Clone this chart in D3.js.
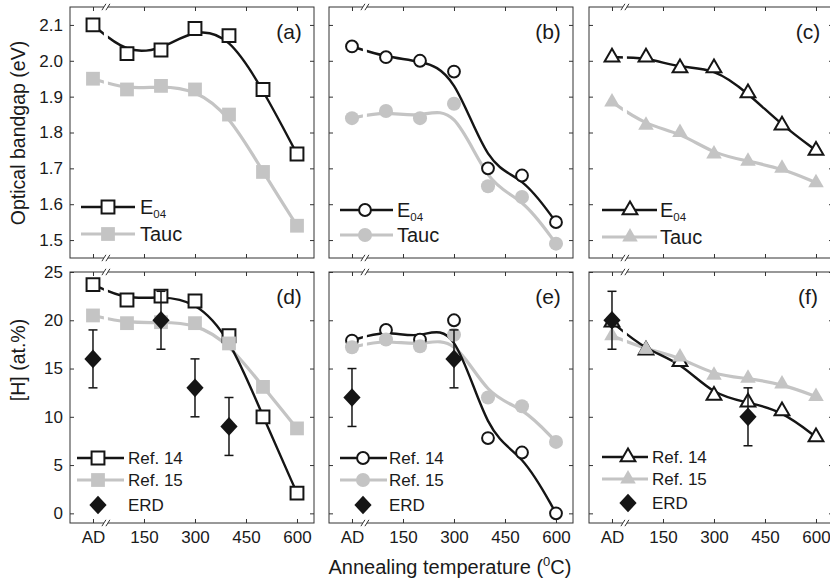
<!DOCTYPE html>
<html><head><meta charset="utf-8">
<script src="https://cdn.jsdelivr.net/npm/d3@7"></script>
<style>
body{margin:0;background:#fff}
svg{display:block}
text{font-family:"Liberation Sans",Arial,Helvetica,sans-serif;fill:#1a1a1a}
</style>
</head><body>
<svg id="c" width="830" height="583"></svg>
<script>
// ---------- data ----------
const temps = [0, 100, 200, 300, 400, 500, 600];
const xTickValues = [0, 150, 300, 450, 600];
const xTickLabels = ["AD", "150", "300", "450", "600"];
const gapTickValues = [1.5, 1.6, 1.7, 1.8, 1.9, 2.0, 2.1];
const gapTickLabels = ["1.5", "1.6", "1.7", "1.8", "1.9", "2.0", "2.1"];
const hTickValues = [0, 5, 10, 15, 20, 25];
const hTickLabels = ["0", "5", "10", "15", "20", "25"];

const gapE04_a  = [2.10, 2.02, 2.03, 2.09, 2.07, 1.92, 1.74];
const gapTauc_a = [1.95, 1.92, 1.93, 1.92, 1.85, 1.69, 1.54];
const gapE04_b  = [2.04, 2.01, 2.00, 1.97, 1.70, 1.68, 1.55];
const gapTauc_b = [1.84, 1.86, 1.84, 1.88, 1.65, 1.62, 1.49];
const gapE04_c  = [2.01, 2.01, 1.98, 1.98, 1.91, 1.82, 1.75];
const gapTauc_c = [1.885, 1.82, 1.80, 1.74, 1.72, 1.70, 1.66];

const hRef14_d = [23.7, 22.1, 22.5, 22.0, 18.4, 10.0, 2.1];
const hRef15_d = [20.5, 19.7, 19.8, 19.7, 17.6, 13.1, 8.8];
const erdT_d = [0, 200, 300, 400];
const erd_d = [16, 20, 13, 9];
const erdErr_d = [3, 3, 3, 3];

const hRef14_e = [17.9, 19.0, 18.0, 20.0, 7.8, 6.3, 0.0];
const hRef15_e = [17.2, 18.0, 17.3, 18.5, 12.0, 11.1, 7.4];
const erdT_e = [0, 300];
const erd_e = [12, 16];
const erdErr_e = [3, 3];

const hRef14_f = [19.8, 16.9, 15.7, 12.2, 11.5, 10.6, 7.9];
const hRef15_f = [18.4, 17.0, 16.2, 14.3, 14.0, 13.4, 12.1];
const erdT_f = [0, 400];
const erd_f = [20, 10];
const erdErr_f = [3, 3];

const topLegend = ["E04", "Tauc"];
const bottomLegend = ["Ref. 14", "Ref. 15", "ERD"];

// ---------- layout ----------
const svg = d3.select("#c");
const PW = 244, PH = 251;
const colX = [70, 329, 589], rowY = [7, 272];
const GRAY = "#c4c4c4", BLACK = "#151515", AXC = "#333";
const BREAK_VAL = 38;

const x = d3.scaleLinear().domain([-67.6, 650]).range([0, PW]);
const yGap = d3.scaleLinear().domain([1.45, 2.15]).range([PH, 0]);
const yH = d3.scaleLinear().domain([-1, 25]).range([PH, 0]);

const shapes = {
  square: {type: d3.symbolSquare, wSize: 165, gSize: 190},
  circle: {type: d3.symbolCircle, wSize: 110, gSize: 155},
  triangle: {type: d3.symbolTriangle, wSize: 95, gSize: 105}
};

const panels = [
  {id: "a", col: 0, row: 0, y: yGap, black: gapE04_a, gray: gapTauc_a, shape: "square",
   leg: {x0: 11, x1: 65, mx: 38, tx: 70, ys: [200, 227]}},
  {id: "b", col: 1, row: 0, y: yGap, black: gapE04_b, gray: gapTauc_b, shape: "circle",
   leg: {x0: 11, x1: 64, mx: 36, tx: 68, ys: [203, 228]}},
  {id: "c", col: 2, row: 0, y: yGap, black: gapE04_c, gray: gapTauc_c, shape: "triangle",
   leg: {x0: 13, x1: 68, mx: 41, tx: 71, ys: [203, 230]}},
  {id: "d", col: 0, row: 1, y: yH, black: hRef14_d, gray: hRef15_d, shape: "square",
   erdT: erdT_d, erd: erd_d, erdErr: erdErr_d,
   leg: {x0: 7, x1: 54, mx: 28, tx: 58, ys: [186, 208, 233]}},
  {id: "e", col: 1, row: 1, y: yH, black: hRef14_e, gray: hRef15_e, shape: "circle",
   erdT: erdT_e, erd: erd_e, erdErr: erdErr_e,
   leg: {x0: 11, x1: 58, mx: 34, tx: 60, ys: [186, 208, 233]}},
  {id: "f", col: 2, row: 1, y: yH, black: hRef14_f, gray: hRef15_f, shape: "triangle",
   erdT: erdT_f, erd: erd_f, erdErr: erdErr_f,
   leg: {x0: 13, x1: 59, mx: 39, tx: 63, ys: [185, 207, 231]}}
];

function diamond(sel, cx, cy) {
  sel.append("path")
    .attr("d", d3.symbol(d3.symbolSquare).size(175)())
    .attr("transform", `translate(${cx},${cy}) scale(0.92,1) rotate(45)`)
    .attr("fill", BLACK);
}

panels.forEach(p => {
  const g = svg.append("g").attr("transform", `translate(${colX[p.col]},${rowY[p.row]})`);
  const y = p.y;
  const isTop = p.row === 0;
  const ticksY = isTop ? gapTickValues : hTickValues;
  const labelsY = isTop ? gapTickLabels : hTickLabels;
  const xb = x(BREAK_VAL);

  // clip for the axis break gap in the lines
  const cp = svg.append("defs").append("clipPath").attr("id", "clip-" + p.id);
  cp.append("rect").attr("x", -10).attr("y", -30).attr("width", xb - 2 + 10).attr("height", PH + 60);
  cp.append("rect").attr("x", xb + 2).attr("y", -30).attr("width", PW + 20).attr("height", PH + 60);

  // axes (ticks inward)
  const ax = (gen, tx, ty) => {
    const a = g.append("g").attr("transform", `translate(${tx},${ty})`).call(gen);
    a.select(".domain").remove();
    a.attr("font-size", 17).attr("color", AXC);
    a.selectAll("line").attr("stroke-width", 1);
    return a;
  };
  ax(d3.axisBottom(x).tickValues(xTickValues).tickSize(-4).tickPadding(7.5)
      .tickFormat((d, i) => isTop ? "" : xTickLabels[i]), 0, PH);
  ax(d3.axisTop(x).tickValues(xTickValues).tickSize(-4).tickFormat(""), 0, 0);
  ax(d3.axisLeft(y).tickValues(ticksY).tickSize(-4).tickPadding(7)
      .tickFormat((d, i) => p.col === 0 ? labelsY[i] : ""), 0, 0);
  ax(d3.axisRight(y).tickValues(ticksY).tickSize(-4).tickFormat(""), PW, 0);

  // frame
  g.append("rect").attr("x", 0).attr("y", 0).attr("width", PW).attr("height", PH)
    .attr("fill", "none").attr("stroke", AXC).attr("stroke-width", 1);

  // break marks
  [0, PH].forEach(yy => {
    g.append("rect").attr("x", xb - 2).attr("y", yy - 1.5).attr("width", 4).attr("height", 3).attr("fill", "#fff");
    [-2, 2].forEach(o => {
      g.append("line").attr("x1", xb + o - 2).attr("y1", yy + 3.2).attr("x2", xb + o + 2).attr("y2", yy - 3.2)
        .attr("stroke", AXC).attr("stroke-width", 1);
    });
  });

  // lines
  const line = d3.line().x(d => x(d[0])).y(d => y(d[1])).curve(d3.curveBasis);
  const grayPts = temps.map((t, i) => [t, p.gray[i]]);
  const blackPts = temps.map((t, i) => [t, p.black[i]]);
  const lines = g.append("g").attr("clip-path", `url(#clip-${p.id})`);
  lines.append("path").attr("d", line(grayPts)).attr("fill", "none").attr("stroke", GRAY).attr("stroke-width", 3.2);
  lines.append("path").attr("d", line(blackPts)).attr("fill", "none").attr("stroke", BLACK).attr("stroke-width", 2.4);

  const sh = shapes[p.shape];
  const wSym = d3.symbol(sh.type).size(sh.wSize);
  const gSym = d3.symbol(sh.type).size(sh.gSize);
  g.append("g").selectAll("path").data(blackPts).join("path")
    .attr("d", wSym).attr("transform", d => `translate(${x(d[0])},${y(d[1])})`)
    .attr("fill", "#fff").attr("stroke", BLACK).attr("stroke-width", 2);
  g.append("g").selectAll("path").data(grayPts).join("path")
    .attr("d", gSym).attr("transform", d => `translate(${x(d[0])},${y(d[1])})`)
    .attr("fill", GRAY);

  // ERD points
  if (p.erd) {
    const eg = g.append("g");
    p.erdT.forEach((t, i) => {
      const cx = x(t), v = p.erd[i], e = p.erdErr[i];
      eg.append("line").attr("x1", cx).attr("x2", cx).attr("y1", y(v - e)).attr("y2", y(v + e))
        .attr("stroke", BLACK).attr("stroke-width", 1.5);
      [v - e, v + e].forEach(vv => eg.append("line").attr("x1", cx - 4.5).attr("x2", cx + 4.5)
        .attr("y1", y(vv)).attr("y2", y(vv)).attr("stroke", BLACK).attr("stroke-width", 1.5));
      diamond(eg, cx, y(v));
    });
  }

  // legend
  const L = p.leg;
  const lg = g.append("g");
  const fs = isTop ? 20 : 17;
  const names = isTop ? topLegend : bottomLegend;
  lg.append("line").attr("x1", L.x0).attr("x2", L.x1).attr("y1", L.ys[0]).attr("y2", L.ys[0])
    .attr("stroke", BLACK).attr("stroke-width", 2.4);
  lg.append("path").attr("d", wSym).attr("transform", `translate(${L.mx},${L.ys[0]})`)
    .attr("fill", "#fff").attr("stroke", BLACK).attr("stroke-width", 2);
  lg.append("line").attr("x1", L.x0).attr("x2", L.x1).attr("y1", L.ys[1]).attr("y2", L.ys[1])
    .attr("stroke", GRAY).attr("stroke-width", 3.2);
  lg.append("path").attr("d", gSym).attr("transform", `translate(${L.mx},${L.ys[1]})`).attr("fill", GRAY);
  if (isTop) {
    const t0 = lg.append("text").attr("x", L.tx).attr("y", L.ys[0] + 7).attr("font-size", fs);
    t0.append("tspan").text(names[0].slice(0, 1));
    t0.append("tspan").attr("dy", 4).attr("font-size", 11.5).text(names[0].slice(1));
    lg.append("text").attr("x", L.tx).attr("y", L.ys[1] + 7).attr("font-size", fs).text(names[1]);
  } else {
    diamond(lg, L.mx, L.ys[2]);
    names.forEach((n, i) => lg.append("text").attr("x", L.tx).attr("y", L.ys[i] + 6)
      .attr("font-size", fs).text(n));
  }

  // panel label
  g.append("text").attr("x", PW - 25).attr("y", 32).attr("text-anchor", "middle")
    .attr("font-size", 21).text(`(${p.id})`);
});

// axis titles
svg.append("text").attr("transform", "translate(25,133) rotate(-90)").attr("text-anchor", "middle")
  .attr("font-size", 19.5).text("Optical bandgap (eV)");
svg.append("text").attr("transform", "translate(25,360) rotate(-90)").attr("text-anchor", "middle")
  .attr("font-size", 19.5).text("[H] (at.%)");
const xt = svg.append("text").attr("x", 450).attr("y", 574).attr("text-anchor", "middle").attr("font-size", 20);
xt.append("tspan").text("Annealing temperature (");
xt.append("tspan").attr("dy", -8).attr("font-size", 13).text("0");
xt.append("tspan").attr("dy", 8).text("C)");
</script>
</body></html>
